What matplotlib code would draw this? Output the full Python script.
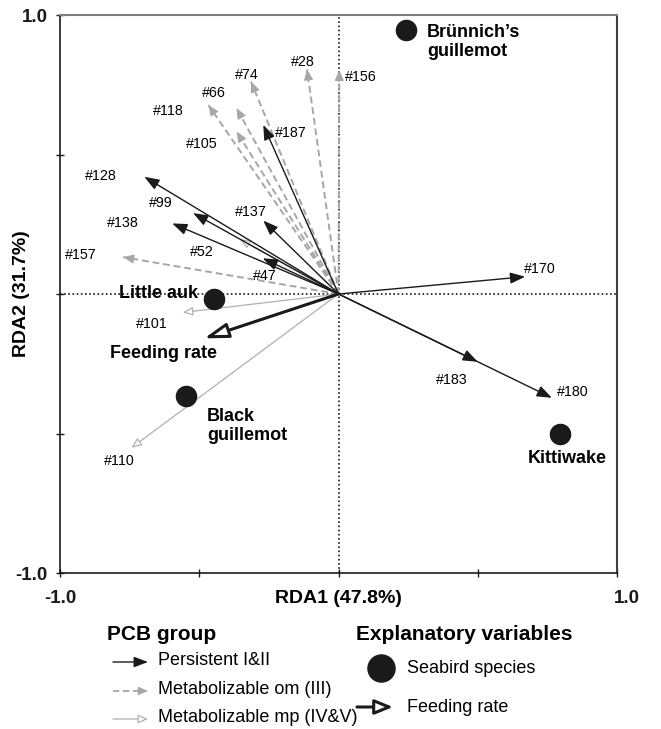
import matplotlib
matplotlib.use('Agg')
import matplotlib.pyplot as plt
from matplotlib.transforms import ScaledTranslation

plt.rcParams['font.family'] = ['Liberation Sans', 'DejaVu Sans']

# ---------------- data ----------------
# Persistent I&II (black arrows)
pers_names = ['#128', '#99', '#138', '#137', '#47', '#187', '#170', '#180', '#183']
pers_x = [-0.697, -0.522, -0.597, -0.270, -0.272, -0.270, 0.670, 0.766, 0.500]
pers_y = [0.420, 0.290, 0.253, 0.263, 0.128, 0.606, 0.062, -0.372, -0.243]
pers_lx = [-0.853, -0.637, -0.774, -0.314, -0.264, -0.171, 0.724, 0.840, 0.408]
pers_ly = [0.423, 0.326, 0.254, 0.294, 0.065, 0.577, 0.090, -0.351, -0.308]

# Metabolizable om (III) (grey dashed arrows)
om_names = ['#28', '#156', '#74', '#66', '#118', '#105', '#157']
om_x = [-0.113, 0.003, -0.314, -0.366, -0.467, -0.366, -0.773]
om_y = [0.805, 0.803, 0.761, 0.666, 0.677, 0.582, 0.132]
om_lx = [-0.127, 0.023, -0.329, -0.447, -0.612, -0.490, -0.925]
om_ly = [0.832, 0.779, 0.785, 0.720, 0.656, 0.538, 0.140]

# Metabolizable mp (IV&V) (light grey, open heads)
mp_names = ['#52', '#101', '#110']
mp_x = [-0.354, -0.559, -0.743]
mp_y = [0.196, -0.066, -0.551]
mp_lx = [-0.490, -0.670, -0.788]
mp_ly = [0.151, -0.108, -0.599]

# Explanatory variables
feed_x, feed_y = -0.482, -0.159
species = ['Little auk', 'Black\nguillemot', 'Brünnich’s\nguillemot', 'Kittiwake']
sp_x = [-0.447, -0.548, 0.241, 0.795]
sp_y = [-0.017, -0.366, 0.946, -0.502]

# ---------------- figure ----------------
W, H = 661, 729
fig = plt.figure(figsize=(W / 100, H / 100), dpi=100)
lax = fig.add_axes([0, 0, 1, 1])
lax.set_xlim(0, W)
lax.set_ylim(H, 0)
lax.axis('off')

ax = fig.add_axes([60 / W, 1 - 573 / H, 557 / W, 558 / H])
ax.set_facecolor('none')
ax.set_xlim(-1, 1)
ax.set_ylim(-1, 1)

BLACK = '#1a1a1a'
OMC = '#a6a6a6'
MPC = '#b0b0b0'

ax.axhline(0, color=BLACK, lw=1.2, ls=(0, (1, 1.5)), zorder=1)
ax.axvline(0, color=BLACK, lw=1.2, ls=(0, (1, 1.5)), zorder=1)


def head(a, x0, y0, x1, y1, color, fc, lw, hl, hw, ms=10, z=3):
    a.annotate('', xy=(x1, y1), xytext=(x0, y0),
               arrowprops=dict(arrowstyle='-|>,head_length=%g,head_width=%g' % (hl, hw),
                               mutation_scale=ms, ec=color, fc=fc, lw=lw,
                               shrinkA=0, shrinkB=0), zorder=z)


# persistent arrows
for x, y in zip(pers_x, pers_y):
    head(ax, 0, 0, x, y, BLACK, BLACK, 1.0, 0.9, 0.34)
for n, x, y in zip(pers_names, pers_lx, pers_ly):
    ax.text(x, y, n, fontsize=10.3, ha='center', va='center', color='black')

# om arrows (dashed shaft + small solid head)
for x, y in zip(om_x, om_y):
    ax.plot([0, x], [0, y], color=OMC, lw=1.4, dashes=(3.5, 2), zorder=2)
    L = (x * x + y * y) ** 0.5
    k = 0.035 / L
    head(ax, x * (1 - k), y * (1 - k), x, y, OMC, OMC, 0.8, 0.65, 0.28)
for n, x, y in zip(om_names, om_lx, om_ly):
    ha = 'left' if n == '#156' else 'center'
    ax.text(x, y, n, fontsize=10.3, ha=ha, va='center', color='black')

# mp arrows (open heads)
for x, y in zip(mp_x, mp_y):
    head(ax, 0, 0, x, y, MPC, 'white', 0.9, 0.6, 0.26, z=2)
for n, x, y in zip(mp_names, mp_lx, mp_ly):
    ax.text(x, y, n, fontsize=10.3, ha='center', va='center', color='black')

# feeding rate arrow
head(ax, 0, 0, feed_x, feed_y, BLACK, 'white', 2.2, 1.45, 0.45, z=4)
ax.text(-0.630, -0.215, 'Feeding rate', fontsize=13, fontweight='bold',
        ha='center', va='center')

# seabird species
ax.plot(sp_x, sp_y, 'o', color=BLACK, ms=14.5, zorder=5, ls='none')
sp_lpos = [(-0.504, 0.0, 'right'), (-0.472, -0.472, 'left'),
           (0.318, 0.903, 'left'), (0.820, -0.591, 'center')]
for name, (x, y, ha) in zip(species, sp_lpos):
    ax.text(x, y, name, fontsize=13, fontweight='bold', ha=ha, va='center',
            linespacing=1.17, zorder=6)

# axes styling
ax.set_xticks([-1, -0.5, 0, 0.5, 1])
ax.set_xticklabels(['-1.0', '', '', '', '1.0'])
ax.set_yticks([-1, -0.5, 0, 0.5, 1])
ax.set_yticklabels(['-1.0', '', '', '', '1.0'])
ax.tick_params(direction='inout', length=6, width=1, colors=BLACK,
               labelsize=13.5, pad=6)
ax.tick_params(axis='x', pad=9)
for lab in ax.get_xticklabels() + ax.get_yticklabels():
    lab.set_fontweight('bold')
xl = ax.get_xticklabels()
xl[-1].set_transform(xl[-1].get_transform() + ScaledTranslation(10 / 100, 0, fig.dpi_scale_trans))

ax.spines['left'].set_color(BLACK)
ax.spines['bottom'].set_color(BLACK)
ax.spines['left'].set_linewidth(1.2)
ax.spines['bottom'].set_linewidth(1.2)
ax.spines['top'].set_color('#808080')
ax.spines['right'].set_color('#404040')
ax.spines['top'].set_linewidth(1.5)
ax.spines['right'].set_linewidth(1.5)

ax.set_xlabel('RDA1 (47.8%)', fontsize=14, fontweight='bold')
ax.xaxis.set_label_coords(0.5, -0.03)
ax.set_ylabel('RDA2 (31.7%)', fontsize=14, fontweight='bold')
ax.yaxis.set_label_coords(-0.053, 0.5)

# ---------------- legend (pixel layout) ----------------
lax.text(107, 640, 'PCB group', fontsize=15, fontweight='bold', ha='left', va='baseline')
lax.text(356, 640, 'Explanatory variables', fontsize=15, fontweight='bold',
         ha='left', va='baseline')
leg_labels = ['Persistent I&II', 'Metabolizable om (III)', 'Metabolizable mp (IV&V)']
leg_y = [662, 691, 719]
head(lax, 113, leg_y[0], 148, leg_y[0], BLACK, BLACK, 1.0, 0.85, 0.32)
lax.plot([113, 142], [leg_y[1], leg_y[1]], color=OMC, lw=1.3, dashes=(3.5, 2))
head(lax, 136, leg_y[1], 148, leg_y[1], OMC, OMC, 0.8, 0.6, 0.26)
head(lax, 113, leg_y[2], 148, leg_y[2], MPC, 'white', 0.9, 0.6, 0.26)
for t, y in zip(leg_labels, leg_y):
    lax.text(158, y + 3, t, fontsize=13, ha='left', va='baseline')

lax.plot([380.7], [668.3], 'o', color=BLACK, ms=19.5)
lax.text(407, 673, 'Seabird species', fontsize=13, ha='left', va='baseline')
head(lax, 357, 707, 393, 707, BLACK, 'white', 2.2, 1.1, 0.45)
lax.text(407, 712, 'Feeding rate', fontsize=13, ha='left', va='baseline')

fig.savefig('out.png', dpi=100, facecolor='white')
